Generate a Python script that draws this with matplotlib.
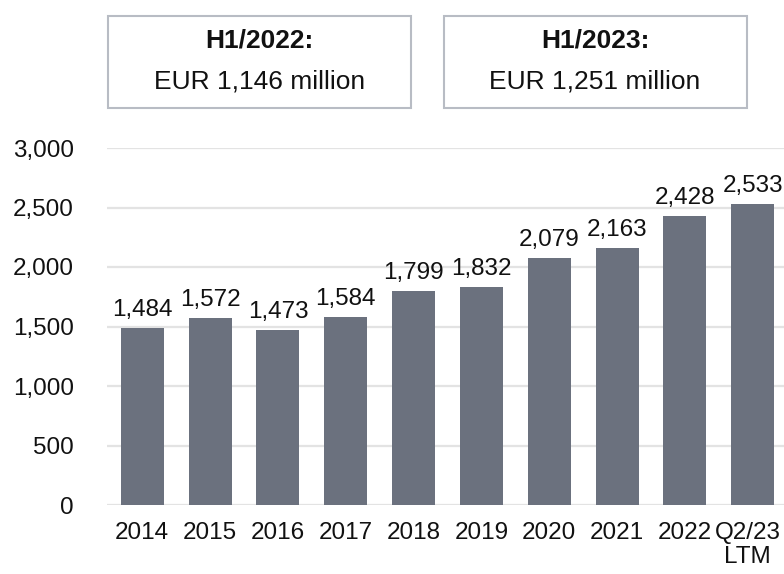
import matplotlib.pyplot as plt
from matplotlib.patches import Rectangle
from matplotlib.transforms import ScaledTranslation

plt.rcParams['font.family'] = ['Liberation Sans', 'DejaVu Sans']

categories = ["2014", "2015", "2016", "2017", "2018", "2019", "2020", "2021", "2022", "Q2/23\nLTM"]
values = [1484, 1572, 1473, 1584, 1799, 1832, 2079, 2163, 2428, 2533]
yticks = [0, 500, 1000, 1500, 2000, 2500, 3000]
box_titles = ["H1/2022:", "H1/2023:"]
box_texts = ["EUR 1,146 million", "EUR 1,251 million"]

W, H = 784, 574
fig = plt.figure(figsize=(W / 100, H / 100), dpi=100)
ax = fig.add_axes([107 / W, (H - 505) / H, 1 - 107 / W, (505 - 148) / H])

x = range(len(categories))
bars = ax.bar(x, values, width=0.634, color="#6b717e", zorder=3)
for xi, v in zip(x, values):
    ax.annotate(f"{v:,}", (xi, v), xytext=(0, 5), textcoords="offset points",
                ha="center", va="bottom", fontsize=17.5, color="#111111")

ax.set_xlim(-0.52, 9.46)
ax.set_ylim(0, 3000)
ax.set_yticks(yticks)
ax.set_yticklabels([f"{t:,}" for t in yticks])
ax.set_xticks(list(x))
ax.set_xticklabels(categories, linespacing=1.12)
ax.tick_params(axis="y", length=0, pad=24, labelsize=17.5, labelcolor="#111111")
ax.tick_params(axis="x", length=0, pad=12, labelsize=17.5, labelcolor="#111111")
ax.grid(axis="y", color="#e3e3e3", linewidth=1.6, zorder=0)
for s in ax.spines.values():
    s.set_visible(False)

# nudge the last label a bit left so it stays inside the figure
last = ax.get_xticklabels()[-1]
last.set_transform(last.get_transform() + ScaledTranslation(-0.05, 0, fig.dpi_scale_trans))

# summary boxes at the top
for cx, t1, t2 in zip([259.5, 595], box_titles, box_texts):
    left, right, top, bottom = cx - 151.5, cx + 151.5, 16, 108
    fig.patches.append(Rectangle((left / W, (H - bottom) / H), (right - left) / W,
                                 (bottom - top) / H, transform=fig.transFigure,
                                 fill=False, edgecolor="#b8bcc4", linewidth=1.5))
    fig.text(cx / W, (H - 40) / H, t1, ha="center", va="center", fontsize=19,
             fontweight="bold", color="#111111")
    fig.text(cx / W, (H - 82) / H, t2, ha="center", va="center", fontsize=19,
             color="#111111")

fig.savefig("out.png", dpi=100)
